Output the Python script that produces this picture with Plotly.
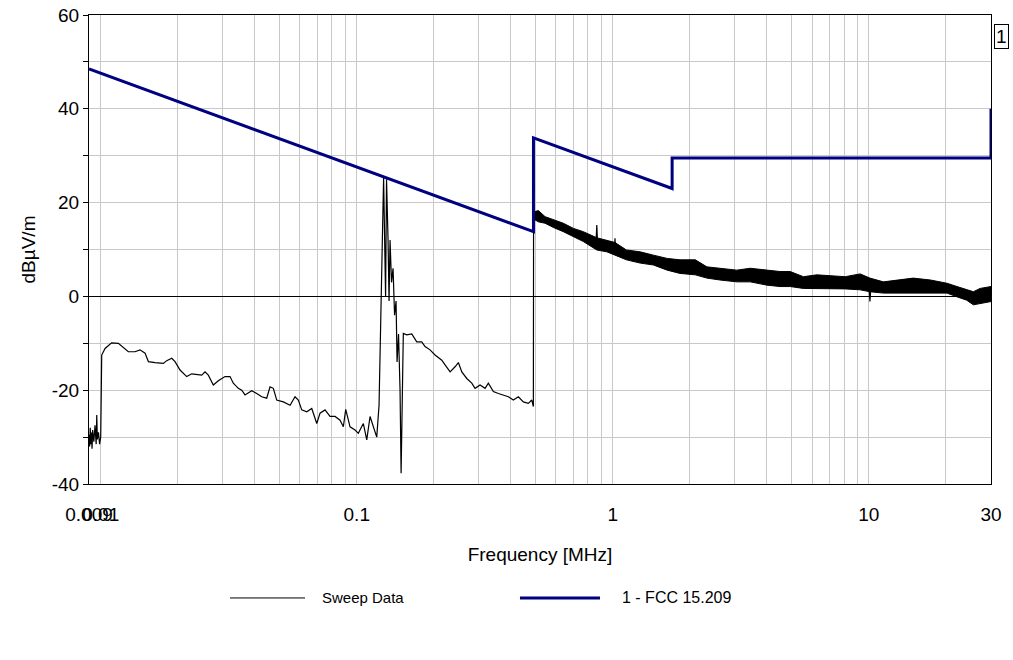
import plotly.graph_objects as go

# ---------------- data ----------------
# FCC 15.209 limit line (MHz, dBuV/m)
limit_freq = [0.009, 0.49, 0.49, 1.705, 1.705, 30.0, 30.0]
limit_level = [48.5, 13.8, 33.8, 23.0, 29.5, 29.5, 40.0]

# Sweep data trace (MHz, dBuV/m)
sweep_freq = [
    0.0090, 0.00905, 0.0091, 0.00915, 0.0092, 0.00925, 0.0093, 0.0094, 0.0095, 0.0096,
    0.00965, 0.0097, 0.0098, 0.0099, 0.0100, 0.01009, 0.0104, 0.01103, 0.01172, 0.01244,
    0.01282, 0.01361, 0.01424, 0.0149, 0.01535, 0.0163, 0.01756, 0.01811, 0.01894, 0.01951,
    0.02041, 0.02167, 0.02267, 0.0248, 0.02555, 0.02632, 0.02753, 0.0288, 0.03058, 0.03199,
    0.03295, 0.03447, 0.03555, 0.03661, 0.03889, 0.04067, 0.04254, 0.0445, 0.04584, 0.04723,
    0.04869, 0.05167, 0.0549, 0.0574, 0.05913, 0.06097, 0.06377, 0.06672, 0.06979, 0.07188,
    0.07518, 0.07863, 0.08226, 0.08605, 0.08863, 0.09055, 0.09414, 0.09846, 0.1014, 0.1061,
    0.1094, 0.1127, 0.1161, 0.1197, 0.1222, 0.1239, 0.1256, 0.1273, 0.1296, 0.1307,
    0.1325, 0.1337, 0.1349, 0.1367, 0.1386, 0.1405, 0.1424, 0.1437, 0.1456, 0.1476,
    0.1490, 0.1510, 0.1520, 0.1568, 0.1640, 0.1715, 0.1794, 0.1848, 0.1933, 0.2022,
    0.2148, 0.2213, 0.2315, 0.2421, 0.2494, 0.2572, 0.2690, 0.2813, 0.2898, 0.3031,
    0.3170, 0.3266, 0.3416, 0.3573, 0.3738, 0.3910, 0.4089, 0.4277, 0.4474, 0.4679,
    0.4825, 0.4895, 0.4905, 0.512, 0.544, 0.586, 0.641, 0.702, 0.767, 0.860,
    0.866, 0.872, 0.948, 1.015, 1.020, 1.025, 1.13, 1.28, 1.44, 1.63,
    1.83, 2.10, 2.33, 2.62, 3.05, 3.44, 4.00, 4.50, 4.93, 5.55,
    6.26, 7.06, 8.08, 9.25, 10.0, 10.1, 10.2, 11.4, 13.3, 14.9,
    17.4, 20.2, 22.1, 24.1, 25.6, 27.2, 30.0,
]
sweep_level = [
    -29.5, -32.0, -28.0, -31.5, -29.0, -32.5, -28.5, -31.0, -27.5, -31.5,
    -25.3, -30.5, -29.0, -31.5, -30.0, -12.5, -11.1, -9.9, -10.0, -11.1,
    -11.8, -11.8, -11.4, -12.1, -13.9, -14.1, -14.3, -13.7, -13.2, -13.9,
    -15.7, -17.1, -16.5, -16.8, -16.1, -16.8, -18.9, -18.0, -17.1, -17.1,
    -18.5, -19.6, -20.0, -21.0, -20.1, -20.7, -21.4, -21.7, -19.3, -19.6,
    -22.1, -22.5, -23.2, -21.4, -22.1, -24.2, -24.6, -23.9, -27.1, -24.9,
    -24.2, -25.6, -25.6, -26.4, -27.8, -24.1, -27.8, -28.5, -29.2, -27.1,
    -30.6, -25.6, -27.8, -30.0, -23.2, -5.0, 4.6, 25.3, 0.0, 25.0,
    12.0, -1.0, 12.0, 3.0, 6.0, -4.0, -1.0, -14.0, -8.0, -20.0,
    -37.7, -8.0, -7.9, -8.2, -8.0, -9.7, -9.7, -10.7, -11.4, -12.5,
    -13.6, -14.6, -16.1, -15.0, -14.1, -16.1, -17.5, -18.5, -19.6, -18.9,
    -19.6, -18.5, -20.3, -20.7, -21.0, -21.4, -22.1, -21.4, -22.5, -22.8,
    -22.1, -23.5, 17.5, 17.1, 16.3, 15.5, 14.7, 13.6, 12.7, 11.5,
    15.2, 11.2, 10.7, 10.0, 12.4, 9.8, 8.8, 8.3, 7.7, 6.8,
    6.3, 6.2, 5.1, 4.7, 4.3, 4.5, 4.0, 3.7, 3.7, 3.0,
    3.1, 3.0, 2.9, 3.1, 2.5, -1.1, 2.4, 1.9, 2.1, 2.3,
    2.1, 1.7, 1.0, 0.3, -0.4, 0.1, 0.5,
]

# Envelope of the dense noisy part of the sweep (MHz, dBuV/m)
band_freq = [0.4905, 0.512, 0.544, 0.586, 0.641, 0.702, 0.767, 0.866, 0.948, 1.02,
             1.13, 1.28, 1.44, 1.63, 1.83, 2.10, 2.33, 2.62, 3.05, 3.44,
             4.00, 4.50, 4.93, 5.55, 6.26, 7.06, 8.08, 9.25, 10.1, 11.4,
             13.3, 14.9, 17.4, 20.2, 22.1, 24.1, 25.6, 27.2, 30.0]
band_upper = [18.0, 18.3, 17.0, 16.4, 15.6, 14.5, 13.8, 12.5, 12.0, 11.5,
              9.9, 9.5, 8.8, 8.1, 7.8, 7.8, 6.3, 6.0, 5.6, 6.0,
              5.6, 5.3, 5.3, 4.2, 4.6, 4.4, 4.2, 4.8, 3.9, 3.1,
              3.5, 3.9, 3.5, 2.8, 2.1, 1.4, 1.0, 1.7, 2.1]
band_lower = [16.5, 15.9, 15.6, 14.7, 13.8, 12.7, 11.7, 9.9, 9.5, 8.8,
              7.8, 7.1, 6.7, 5.6, 4.9, 4.6, 3.9, 3.5, 3.1, 3.1,
              2.4, 2.1, 2.1, 1.7, 1.7, 1.7, 1.6, 1.4, 1.0, 0.7,
              0.7, 0.7, 0.7, 0.7, -0.1, -0.8, -1.8, -1.5, -1.1]

# Axis ticks
x_tickvals = [0.009, 0.01, 0.02, 0.03, 0.04, 0.05, 0.06, 0.07, 0.08, 0.09,
              0.1, 0.2, 0.3, 0.4, 0.5, 0.6, 0.7, 0.8, 0.9,
              1, 2, 3, 4, 5, 6, 7, 8, 9,
              10, 20, 30]
x_ticktext = ["0.009", "0.01", "", "", "", "", "", "", "", "",
              "0.1", "", "", "", "", "", "", "", "",
              "1", "", "", "", "", "", "", "", "",
              "10", "", "30"]
y_tickvals = [-40, -30, -20, -10, 0, 10, 20, 30, 40, 50, 60]
y_ticktext = ["-40", "", "-20", "", "0", "", "20", "", "40", "", "60"]

SWEEP_COLOR = "#000000"
LIMIT_COLOR = "#000080"
FONT = "Liberation Sans, Arial, sans-serif"

fig = go.Figure()

# noisy band (lower edge, then filled to upper edge)
fig.add_trace(go.Scatter(x=band_freq, y=band_lower, mode="lines",
                         line=dict(color=SWEEP_COLOR, width=1),
                         showlegend=False, hoverinfo="skip"))
fig.add_trace(go.Scatter(x=band_freq, y=band_upper, mode="lines",
                         line=dict(color=SWEEP_COLOR, width=1),
                         fill="tonexty", fillcolor=SWEEP_COLOR,
                         showlegend=False, hoverinfo="skip"))

fig.add_trace(go.Scatter(x=sweep_freq, y=sweep_level, mode="lines",
                         line=dict(color=SWEEP_COLOR, width=1.2),
                         name="Sweep Data", showlegend=False))
fig.add_trace(go.Scatter(x=limit_freq, y=limit_level, mode="lines",
                         line=dict(color=LIMIT_COLOR, width=3),
                         name="1 - FCC 15.209", showlegend=False))

fig.update_layout(
    width=1013, height=660,
    margin=dict(l=89, r=22, t=15, b=176, autoexpand=False),
    paper_bgcolor="white", plot_bgcolor="white",
    font=dict(family=FONT, size=15, color="#000000"),
    showlegend=False,
)

fig.update_xaxes(
    type="log",
    range=[-2.045757, 1.477121],
    tickvals=x_tickvals, ticktext=x_ticktext, tickangle=0,
    tickfont=dict(size=19),
    ticks="outside", ticklen=13, tickcolor="rgba(0,0,0,0)",
    showgrid=True, gridcolor="#c8c8c8", gridwidth=1,
    showline=True, linecolor="#000000", linewidth=1, mirror=True,
    zeroline=False, automargin=False,
    title=dict(text="Frequency [MHz]", font=dict(size=19), standoff=23),
)
fig.update_yaxes(
    range=[-40, 60],
    tickvals=y_tickvals, ticktext=y_ticktext,
    tickfont=dict(size=19),
    ticks="outside", ticklen=5, tickcolor="#000000",
    showgrid=True, gridcolor="#c8c8c8", gridwidth=1,
    showline=True, linecolor="#000000", linewidth=1, mirror=True,
    zeroline=True, zerolinecolor="#000000", zerolinewidth=1,
    automargin=False,
    title=dict(text="dBµV/m", font=dict(size=19), standoff=11),
)

# manual legend below the chart
fig.add_shape(type="line", xref="paper", yref="paper",
              x0=0.1563, x1=0.2395, y0=-0.243, y1=-0.243,
              line=dict(color=SWEEP_COLOR, width=1))
fig.add_annotation(xref="paper", yref="paper", x=0.2561, y=-0.243,
                   text="Sweep Data", showarrow=False, xanchor="left", yanchor="middle",
                   font=dict(size=15))
fig.add_shape(type="line", xref="paper", yref="paper",
              x0=0.4778, x1=0.5665, y0=-0.243, y1=-0.243,
              line=dict(color=LIMIT_COLOR, width=3))
fig.add_annotation(xref="paper", yref="paper", x=0.5887, y=-0.243,
                   text="1 - FCC 15.209", showarrow=False, xanchor="left", yanchor="middle",
                   font=dict(size=16))

# limit line marker box "1" at the right edge
fig.add_annotation(xref="paper", yref="paper", x=1.003, y=0.955,
                   text="1", showarrow=False, xanchor="left", yanchor="middle",
                   font=dict(size=19), bordercolor="#000000", borderwidth=1,
                   borderpad=1, bgcolor="white")

fig.write_html("out.html",
               config={"displayModeBar": False},
               post_script="document.body.style.margin='0';document.body.style.overflow='hidden';")
